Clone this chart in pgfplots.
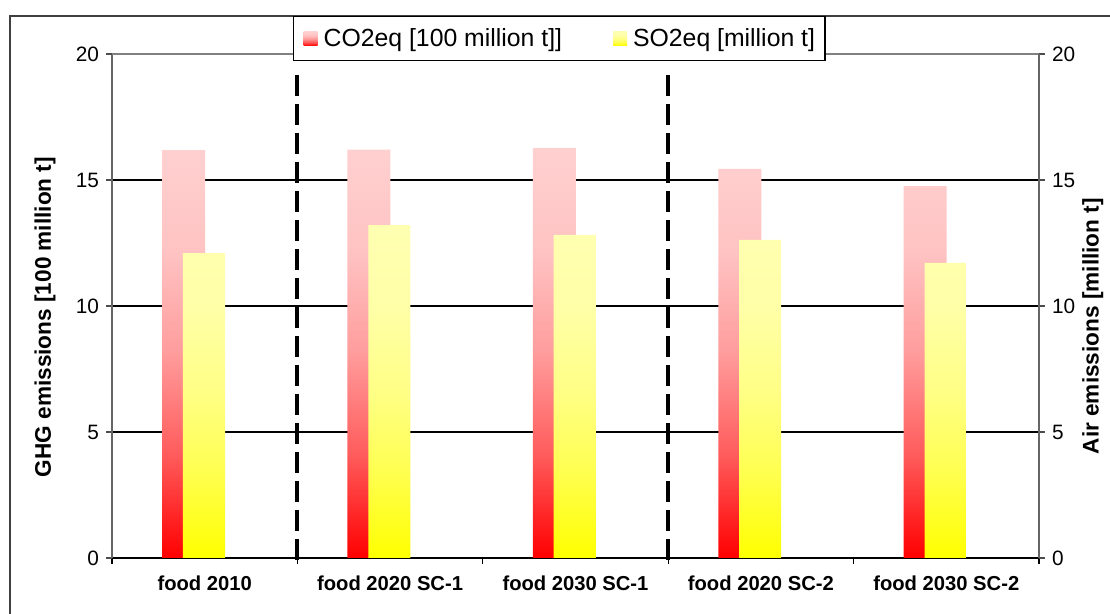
\documentclass[border=0pt]{standalone}
\usepackage{fontspec}
\setmainfont{Liberation Sans}
\usepackage{pgfplots}
\pgfplotsset{compat=1.18}
\pgfdeclareverticalshading{redgrad}{100bp}{rgb(0bp)=(1,0,0); rgb(25bp)=(1,0,0); rgb(37.5bp)=(1,0.357,0.357); rgb(50bp)=(1,0.612,0.612); rgb(62.5bp)=(1,0.765,0.765); rgb(75bp)=(1,0.816,0.816); rgb(100bp)=(1,0.816,0.816)}
\pgfdeclareverticalshading{yelgrad}{100bp}{rgb(0bp)=(1,1,0); rgb(25bp)=(1,1,0); rgb(37.5bp)=(1,1,0.306); rgb(50bp)=(1,1,0.525); rgb(62.5bp)=(1,1,0.655); rgb(75bp)=(1,1,0.698); rgb(100bp)=(1,1,0.698)}
\pgfplotsset{sqlegend/.style={legend image code/.code={\path[##1, draw=none] (0pt,-3.5pt) rectangle (7pt,3.5pt);}}}
\begin{document}
\begin{tikzpicture}
\useasboundingbox (0,0) rectangle (555pt,307pt);
\fill[white] (0,0) rectangle (555pt,307pt);
\draw[line width=0.8pt, black!75] (5pt,-2pt) -- (5pt,299pt) -- (560pt,299pt);
\begin{axis}[
  at={(56pt,28pt)}, anchor=south west,
  scale only axis, width=463.5pt, height=252pt,
  xmin=-0.5, xmax=4.5, ymin=0, ymax=20,
  clip=false,
  axis x line*=bottom, axis y line*=left,
  x axis line style={black, line width=0.6pt, -},
  y axis line style={black!60, line width=0.6pt, -},
  xtick={0,...,4},
  xticklabels={food 2010, food 2020 SC-1, food 2030 SC-1, food 2020 SC-2, food 2030 SC-2},
  x tick label style={font=\fontsize{10.1}{12}\selectfont\bfseries, yshift=-2.5pt},
  major x tick style={draw=none},
  minor xtick={-0.5,0.5,...,4.5},
  minor x tick style={black, line width=0.6pt},
  minor tick length=3pt,
  ytick={0,5,10,15},
  extra y ticks={20},
  extra y tick style={major grid style={black!50, line width=0.8pt}},
  ymajorgrids, major grid style={black, line width=0.6pt},
  tick align=outside, major tick length=3pt,
  y tick style={black!70, line width=0.6pt},
  y tick label style={font=\fontsize{10.4}{12}\selectfont},
  /pgf/number format/assume math mode=true,
  ylabel={GHG emissions [100 million t]},
  ylabel style={at={(axis description cs:-0.0723,0.478)}, anchor=center, font=\fontsize{11.3}{13}\selectfont\bfseries},
  legend columns=2,
  legend style={at={(0.1953,1.0754)}, anchor=north west, draw=black, line width=0.6pt,
    font=\fontsize{12.4}{14}\selectfont, inner xsep=5pt, inner ysep=5.8pt,
    nodes={inner sep=0pt},
    /tikz/every odd column/.append style={column sep=3pt},
    /tikz/every even column/.append style={column sep=25.5pt}},
]
\addplot[ybar, bar width=0.232, bar shift=-0.114, draw=none, shade, shading=redgrad, sqlegend]
  coordinates {(0,16.19) (1,16.20) (2,16.27) (3,15.44) (4,14.76)};
\addlegendentry{CO2eq [100 million t]]}
\addplot[ybar, bar width=0.227, bar shift=-0.004, draw=none, shade, shading=yelgrad, sqlegend]
  coordinates {(0,12.10) (1,13.21) (2,12.82) (3,12.62) (4,11.71)};
\addlegendentry{SO2eq [million t]}
\addplot[black, line width=1.9pt, dash pattern=on 10.5pt off 4pt, forget plot]
  coordinates {(0.5,19.15) (0.5,-0.2)};
\addplot[black, line width=1.9pt, dash pattern=on 10.5pt off 4pt, forget plot]
  coordinates {(2.5,19.15) (2.5,-0.2)};
\end{axis}
\begin{axis}[
  at={(56pt,28pt)}, anchor=south west,
  scale only axis, width=463.5pt, height=252pt,
  xmin=-0.5, xmax=4.5, ymin=0, ymax=20,
  axis y line*=right, axis x line=none,
  y axis line style={black!60, line width=0.6pt, -},
  ytick={0,5,10,15,20},
  tick align=outside, major tick length=3pt,
  y tick style={black!70, line width=0.6pt},
  y tick label style={font=\fontsize{10.4}{12}\selectfont},
  /pgf/number format/assume math mode=true,
  ylabel={Air emissions [million t]},
  ylabel style={at={(axis description cs:1.058,0.46)}, anchor=center, rotate=0, font=\fontsize{11.3}{13}\selectfont\bfseries},
]
\addplot[draw=none, forget plot] coordinates {(0,0)};
\end{axis}
\end{tikzpicture}
\end{document}
